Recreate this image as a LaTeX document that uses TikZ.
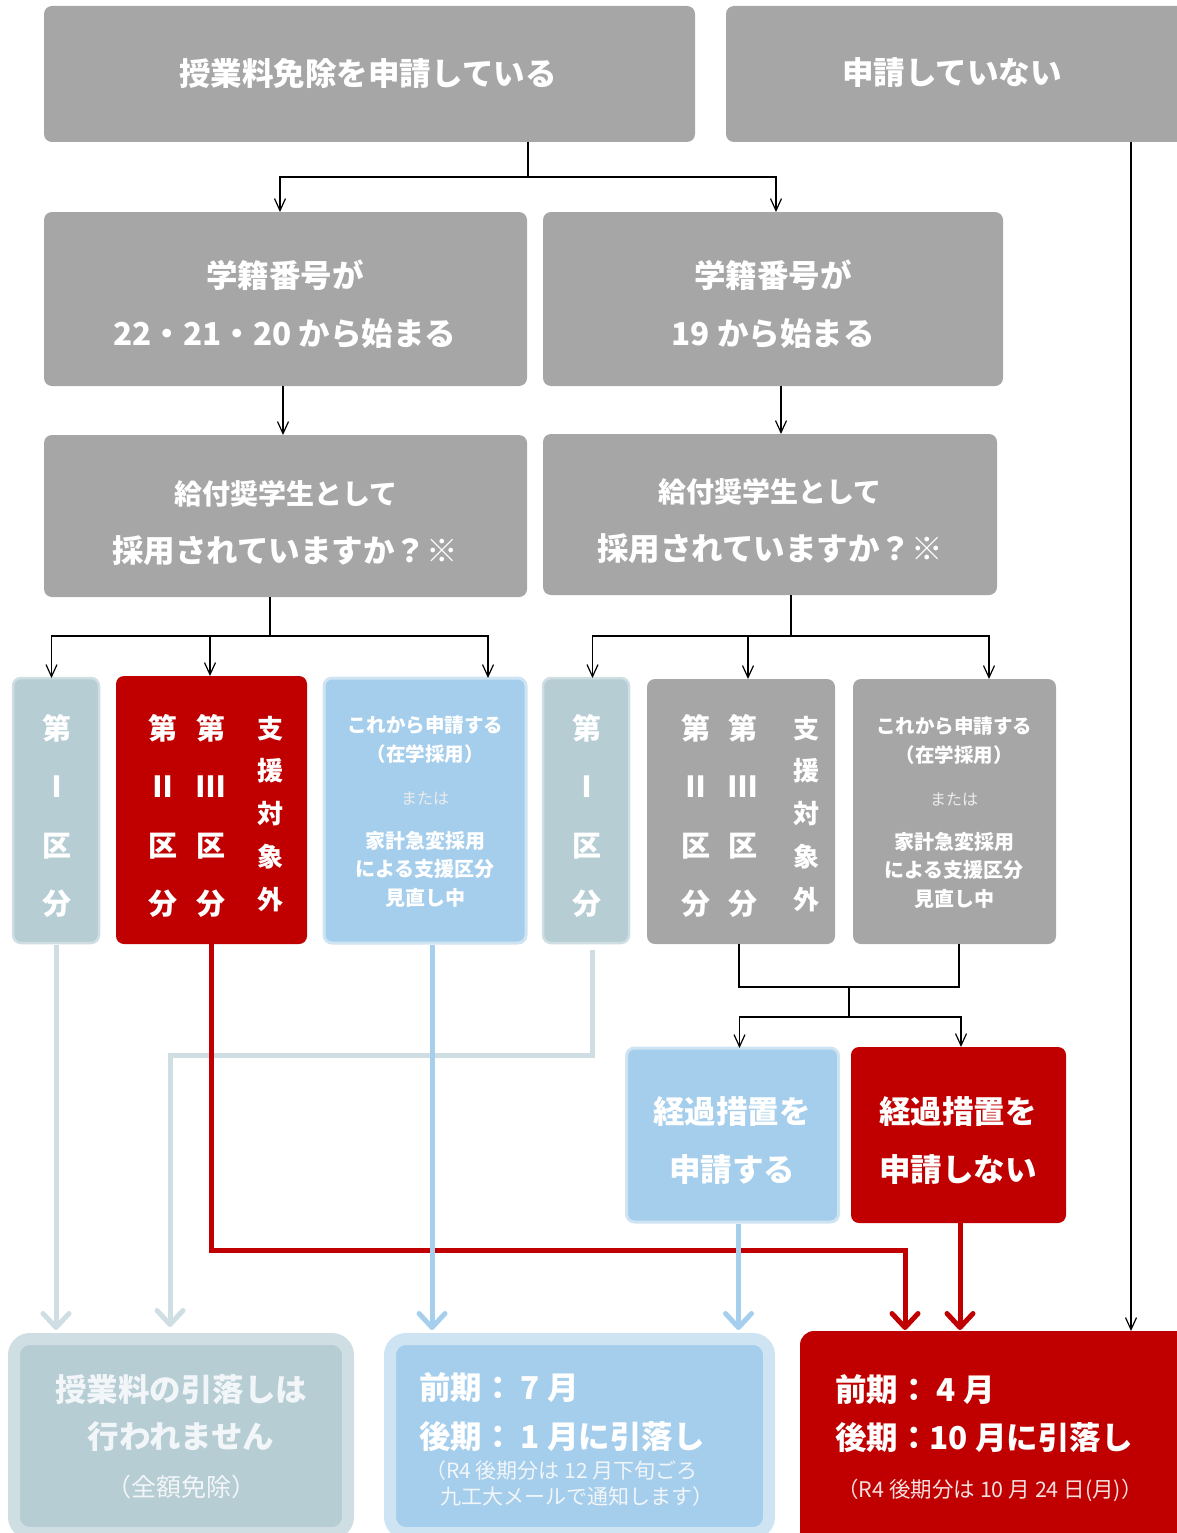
\documentclass[tikz,border=0pt]{standalone}
\usepackage{fontspec}
\setmainfont{Noto Sans CJK JP}
\usetikzlibrary{arrows.meta}
\definecolor{gboxc}{HTML}{A6A6A6}
\definecolor{redc}{HTML}{C00000}
\definecolor{bluec}{HTML}{A5CEEC}
\definecolor{blueb}{HTML}{CFE4F3}
\definecolor{grbl}{HTML}{B6CDD4}
\definecolor{grblb}{HTML}{CFDEE3}
\definecolor{bline}{HTML}{A6CFEE}
\definecolor{softw}{HTML}{F2F6F9}
\begin{document}
\begin{tikzpicture}[x=1pt,y=-1pt,
  box/.style={rectangle, rounded corners=8pt, anchor=north west, inner sep=0pt, outer sep=0pt},
  graybox/.style={box, fill=gboxc},
  redbox/.style={box, fill=redc},
  bluebox/.style={box, fill=bluec, draw=blueb, line width=3pt},
  gbbox/.style={box, fill=grbl, draw=grblb, line width=2.5pt},
  txt/.style={text=white, inner sep=0pt, font=\bfseries\fontsize{31.5}{36}\selectfont},
  mtxt/.style={text=white, inner sep=0pt, font=\bfseries\fontsize{28}{34}\selectfont},
  vtxt/.style={text=white, inner sep=0pt, font=\bfseries\fontsize{29}{34}\selectfont},
  stxt/.style={text=white, inner sep=0pt, font=\bfseries\fontsize{19.5}{22}\selectfont},
  otxt/.style={text=white!85!gray, inner sep=0pt, font=\fontsize{16}{19}\selectfont},
  ntxt/.style={text=softw, inner sep=0pt, font=\fontsize{21}{25}\selectfont},
  link/.style={draw=black, line width=1.2pt},
  arr/.style={link, -{Straight Barb[length=12pt,width=11pt]}},
  tarr/.style={line width=5pt, -{Straight Barb[round,length=14pt,width=26pt]}},
]
\useasboundingbox (0,0) rectangle (1176,1533);

% ---------- boxes ----------
\node[graybox, minimum width=651pt, minimum height=136pt] (top1) at (44,6) {};
\node[graybox, minimum width=460pt, minimum height=136pt] (top2) at (726,6) {};
\node[graybox, minimum width=483pt, minimum height=174pt] (sn1) at (44,212) {};
\node[graybox, minimum width=460pt, minimum height=174pt] (sn2) at (543,212) {};
\node[graybox, minimum width=483pt, minimum height=162pt] (q1) at (44,435) {};
\node[graybox, minimum width=454pt, minimum height=161pt] (q2) at (543,434) {};
\node[gbbox, minimum width=86pt, minimum height=265pt] (c1) at (13,678) {};
\node[redbox, minimum width=191pt, minimum height=268pt] (c2) at (116,676) {};
\node[bluebox, minimum width=202pt, minimum height=265pt] (c3) at (324,678) {};
\node[gbbox, minimum width=86pt, minimum height=265pt] (c4) at (543,678) {};
\node[graybox, minimum width=188pt, minimum height=265pt] (c5) at (647,679) {};
\node[graybox, minimum width=203pt, minimum height=265pt] (c6) at (853,679) {};
\node[bluebox, minimum width=212pt, minimum height=174pt] (t1) at (626.5,1048) {};
\node[redbox, minimum width=215pt, minimum height=176pt] (t2) at (851,1047) {};
\node[box, rounded corners=16pt, fill=grbl, draw=grblb, line width=12pt, minimum width=334pt, minimum height=194pt] (r1) at (14,1339) {};
\node[box, rounded corners=16pt, fill=bluec, draw=blueb, line width=12pt, minimum width=379pt, minimum height=194pt] (r2) at (390,1339) {};
\node[redbox, rounded corners=14pt, minimum width=390pt, minimum height=220pt] (r3) at (800,1331) {};

% ---------- texts ----------
\node[txt] (top1t) at (368,73) {授業料免除を申請している};
\node[txt] (top2t) at (952,73) {申請していない};
\node[txt] (sn1a) at (285,275) {学籍番号が};
\node[txt] (sn1b) at (285,334) {22・21・20 から始まる};
\node[txt] (sn2a) at (773,275) {学籍番号が};
\node[txt] (sn2b) at (773,334) {19 から始まる};
\node[mtxt] (q1a) at (286,494) {給付奨学生として};
\node[txt] (q1b) at (285,551) {採用されていますか？※};
\node[mtxt] (q2a) at (770,492) {給付奨学生として};
\node[txt] (q2b) at (770,549) {採用されていますか？※};

% vertical labels
\foreach \n/\x/\c in {c1/57/Ⅰ, c4/587/Ⅰ, c2a/163/Ⅱ, c2b/211/Ⅲ, c5a/696/Ⅱ, c5b/743/Ⅲ}{
  \node[vtxt] (\n-1) at (\x,728) {第};
  \node[vtxt] (\n-2) at (\x,787) {\c};
  \node[vtxt] (\n-3) at (\x,846) {区};
  \node[vtxt] (\n-4) at (\x,904) {分};
}
\foreach \n/\x in {c2c/270, c5c/806}{
  \node[stxt, font=\bfseries\fontsize{26}{30}\selectfont] (\n-1) at (\x,729) {支};
  \node[stxt, font=\bfseries\fontsize{26}{30}\selectfont] (\n-2) at (\x,771) {援};
  \node[stxt, font=\bfseries\fontsize{26}{30}\selectfont] (\n-3) at (\x,814) {対};
  \node[stxt, font=\bfseries\fontsize{26}{30}\selectfont] (\n-4) at (\x,857) {象};
  \node[stxt, font=\bfseries\fontsize{26}{30}\selectfont] (\n-5) at (\x,900) {外};
}
\foreach \n/\x/\d in {c3/425/0, c6/954/1}{
  \node[stxt] (\n-a) at (\x,725+\d) {これから申請する};
  \node[stxt] (\n-b) at (\x,754+\d) {（在学採用）};
  \node[otxt] (\n-c) at (\x,798+\d) {または};
  \node[stxt, font=\bfseries\fontsize{20}{24}\selectfont] (\n-d) at (\x,841+\d) {家計急変採用};
  \node[stxt, font=\bfseries\fontsize{20}{24}\selectfont] (\n-e) at (\x,869+\d) {による支援区分};
  \node[stxt, font=\bfseries\fontsize{20}{24}\selectfont] (\n-f) at (\x,898+\d) {見直し中};
}
\node[txt] (t1a) at (732,1112) {経過措置を};
\node[txt] (t1b) at (732,1170) {申請する};
\node[txt] (t2a) at (958,1112) {経過措置を};
\node[txt] (t2b) at (958,1170) {申請しない};

\node[txt, text=softw] (r1a) at (181,1390) {授業料の引落しは};
\node[txt, text=softw] (r1b) at (181,1437) {行われません};
\node[ntxt, font=\fontsize{25}{29}\selectfont] (r1c) at (181,1487) {（全額免除）};

\node[txt, anchor=west] (r2a) at (419,1388) {前期： 7 月};
\node[txt, anchor=west] (r2b) at (419,1437) {後期： 1 月に引落し};
\node[ntxt, anchor=west] (r2c) at (425,1471) {（R4 後期分は 12 月下旬ごろ};
\node[ntxt, anchor=west] (r2d) at (440,1497) {九工大メールで通知します）};

\node[txt, anchor=west] (r3a) at (835,1390) {前期： 4 月};
\node[txt, anchor=west] (r3b) at (835,1438) {後期：10 月に引落し};
\node[ntxt, font=\fontsize{21.5}{25}\selectfont, text=white!88!redc] (r3c) at (990,1490) {（R4 後期分は 10 月 24 日(月)）};

% ---------- thin connectors ----------
\draw[arr] ([xshift=158.5pt]top1.south) -- ++(0,35) -| ([xshift=-5.5pt]sn1.north);
\draw[arr] ([xshift=158.5pt]top1.south) -- ++(0,35) -| ([xshift=3pt]sn2.north);
\draw[arr] ([xshift=-2.5pt]sn1.south) -- ([xshift=-2.5pt]sn1.south |- q1.north);
\draw[arr] ([xshift=8pt]sn2.south) -- ([xshift=8pt]sn2.south |- q2.north);

\draw[arr] ([xshift=-15.5pt]q1.south) -- ++(0,39) -| ([xshift=-4.5pt]c1.north);
\draw[arr] ([xshift=-15.5pt]q1.south) -- ++(0,39) -| ([xshift=-1.5pt]c2.north);
\draw[arr] ([xshift=-15.5pt]q1.south) -- ++(0,39) -| ([xshift=63pt]c3.north);

\draw[arr] ([xshift=21pt]q2.south) -- ++(0,41) -| ([xshift=6.5pt]c4.north);
\draw[arr] ([xshift=21pt]q2.south) -- ++(0,41) -| ([xshift=7pt]c5.north);
\draw[arr] ([xshift=21pt]q2.south) -- ++(0,41) -| ([xshift=34.5pt]c6.north);

\coordinate (m56) at (849,987);
\draw[link] ([xshift=-2pt]c5.south) -- ++(0,43) -| ([xshift=4.5pt]c6.south);
\draw[arr] (m56) -- ++(0,30) -| ([xshift=7pt]t1.north);
\draw[arr] (m56) -- ++(0,30) -| ([xshift=2.5pt]t2.north);

\draw[arr] ([xshift=175pt]top2.south) -- ([xshift=175pt]top2.south |- r3.north);

% ---------- thick connectors ----------
\draw[tarr, grblb, shorten >=9pt] ([yshift=-2pt]c1.south) -- (c1.south |- r1.north);
\draw[tarr, grblb, shorten >=12pt] ([xshift=6.5pt,yshift=-7pt]c4.south) -- ++(0,105) -| ([xshift=-11pt]r1.north);
\draw[tarr, redc, shorten >=1pt] ([xshift=-0.5pt]c2.south) -- ++(0,306) -| ([xshift=-90pt]r3.north);
\draw[tarr, bline, shorten >=9pt] ([xshift=7pt,yshift=-2pt]c3.south) -- ([xshift=7pt]c3.south |- r2.north);
\draw[tarr, bline, shorten >=9pt] ([xshift=6pt,yshift=-2pt]t1.south) -- ([xshift=6pt]t1.south |- r2.north);
\draw[tarr, redc, shorten >=1pt] ([xshift=1.5pt]t2.south) -- ([xshift=1.5pt]t2.south |- r3.north);
\end{tikzpicture}
\end{document}
